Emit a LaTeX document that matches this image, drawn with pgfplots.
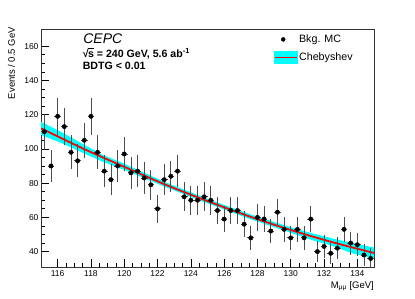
\documentclass[border=0pt]{standalone}
\usepackage{fontspec}
\setmainfont{Liberation Sans}
\usepackage{pgfplots}
\pgfplotsset{compat=1.18}
\usepackage{pgfplotstable}
\definecolor{rootcyan}{RGB}{0,255,255}
\definecolor{rootred}{RGB}{255,0,0}

\pgfplotstableread{
x y ex ey
115.2 110 0.2 10.5
115.6 90 0.2 9.5
116.0 119 0.2 10.9
116.4 113 0.2 10.6
116.8 98 0.2 9.9
117.2 93 0.2 9.6
117.6 105 0.2 10.2
118.0 119 0.2 10.9
118.4 98 0.2 9.9
118.8 87 0.2 9.3
119.2 82 0.2 9.1
119.6 90 0.2 9.5
120.0 97 0.2 9.8
120.4 86 0.2 9.3
120.8 87 0.2 9.3
121.2 83 0.2 9.1
121.6 79 0.2 8.9
122.0 65 0.2 8.1
122.4 82 0.2 9.1
122.8 84 0.2 9.2
123.2 87 0.2 9.3
123.6 72 0.2 8.5
124.0 70 0.2 8.4
124.4 70 0.2 8.4
124.8 72 0.2 8.5
125.2 70 0.2 8.4
125.6 64 0.2 8.0
126.0 59 0.2 7.7
126.4 64 0.2 8.0
126.8 64 0.2 8.0
127.2 56 0.2 7.5
127.6 48 0.2 6.9
128.0 60 0.2 7.7
128.4 59 0.2 7.7
128.8 52 0.2 7.2
129.2 63 0.2 7.9
129.6 53 0.2 7.3
130.0 48 0.2 6.9
130.4 53 0.2 7.3
130.8 48 0.2 6.9
131.2 59 0.2 7.7
131.6 40 0.2 6.3
132.0 43 0.2 6.6
132.4 39 0.2 6.2
132.8 42 0.2 6.5
133.2 53 0.2 7.3
133.6 45 0.2 6.7
134.0 44 0.2 6.6
134.4 38 0.2 6.2
134.8 36 0.2 6.0
}\bkgdata

\begin{document}
\begin{tikzpicture}
\begin{axis}[
  at={(0,0)}, anchor=south west,
  width=333pt, height=238pt, scale only axis,
  xmin=115, xmax=135, ymin=31, ymax=170,
  xtick={116,118,...,134}, ytick={40,60,...,160},
  minor x tick num=3, minor y tick num=3,
  tick align=inside, xtick pos=bottom, ytick pos=left,
  major tick length=8pt, minor tick length=4pt,
  tick style={black, line width=0.6pt},
  axis line style={black!80, line width=0.7pt},
  /pgf/number format/assume math mode=true,
  ticklabel style={font=\fontsize{8.5}{10}\selectfont},
  yticklabel style={xshift=1pt},
  clip=true,
  legend style={at={(0.700,0.985)}, anchor=north west, draw=none, fill=none,
    inner sep=0pt, font=\fontsize{10.7}{12}\selectfont, row sep=5pt},
  legend cell align=left,
]
% legend entries
\addlegendimage{only marks, mark=*, mark size=2pt, black}
\addlegendentry{Bkg. MC}
\addlegendimage{legend image code/.code={
  \fill[rootcyan] (0pt,-6pt) rectangle (22pt,6pt);
  \draw[rootred, line width=0.8pt] (0pt,0pt) -- (22pt,0pt);}}
\addlegendentry{Chebyshev}

% uncertainty band
\addplot[fill=rootcyan, draw=none, forget plot] coordinates {
 (115,115.8) (116.25,109.7) (117.5,102.9) (118.75,96.3) (120,91.3) (122.5,80.4) (125,70.8)
 (127.5,62.0) (130,54.2) (131.25,50.8) (132.5,47.7) (133.75,44.9) (135,42.4)
 (135,36.0) (133.75,38.8) (132.5,43.3) (131.25,46.8) (130,51.0) (127.5,59.2) (125,68.2)
 (122.5,77.6) (120,87.7) (118.75,92.3) (117.5,97.7) (116.25,103.3) (115,108.2)
} -- cycle;
% fit line
\addplot[rootred, line width=1.8pt, smooth, forget plot] coordinates {
 (115,112.0) (117.5,100.3) (120,89.5) (122.5,79.0) (125,69.5)
 (127.5,60.6) (130,52.6) (132.5,45.5) (135,39.2)
};
% data points
\addplot[only marks, mark=*, mark size=2.2pt, black, forget plot,
  error bars/.cd, x dir=both, x explicit, y dir=both, y explicit,
  error bar style={line width=0.8pt, black!70}, error mark=none]
  table[x=x, y=y, x error=ex, y error=ey] {\bkgdata};

% texts
\node[anchor=base west, inner sep=0pt] at (rel axis cs:0.1265,0.937)
  {\fontsize{14}{16}\selectfont\itshape CEPC};
\node[anchor=base west, inner sep=0pt] at (rel axis cs:0.125,0.881)
  {\fontsize{10.6}{12}\selectfont\bfseries √\kern-0.6pt\rlap{\rule[8.3pt]{6pt}{0.7pt}}s = 240 GeV, 5.6 ab\textsuperscript{-1}};
\node[anchor=base west, inner sep=0pt] at (rel axis cs:0.125,0.828)
  {\fontsize{10.6}{12}\selectfont\bfseries BDTG < 0.01};
\end{axis}
% axis labels
\node[rotate=90, anchor=base east, inner sep=0pt, font=\fontsize{9.5}{10}\selectfont]
  at (-26pt,240pt) {Events / 0.5 GeV};
\node[anchor=base east, inner sep=0pt, font=\fontsize{9.5}{11}\selectfont]
  at (333pt,-21pt) {M\textsubscript{μμ} [GeV]};
\pgfresetboundingbox
\useasboundingbox (-41pt,-31pt) rectangle (374pt,267pt);
\end{tikzpicture}
\end{document}
